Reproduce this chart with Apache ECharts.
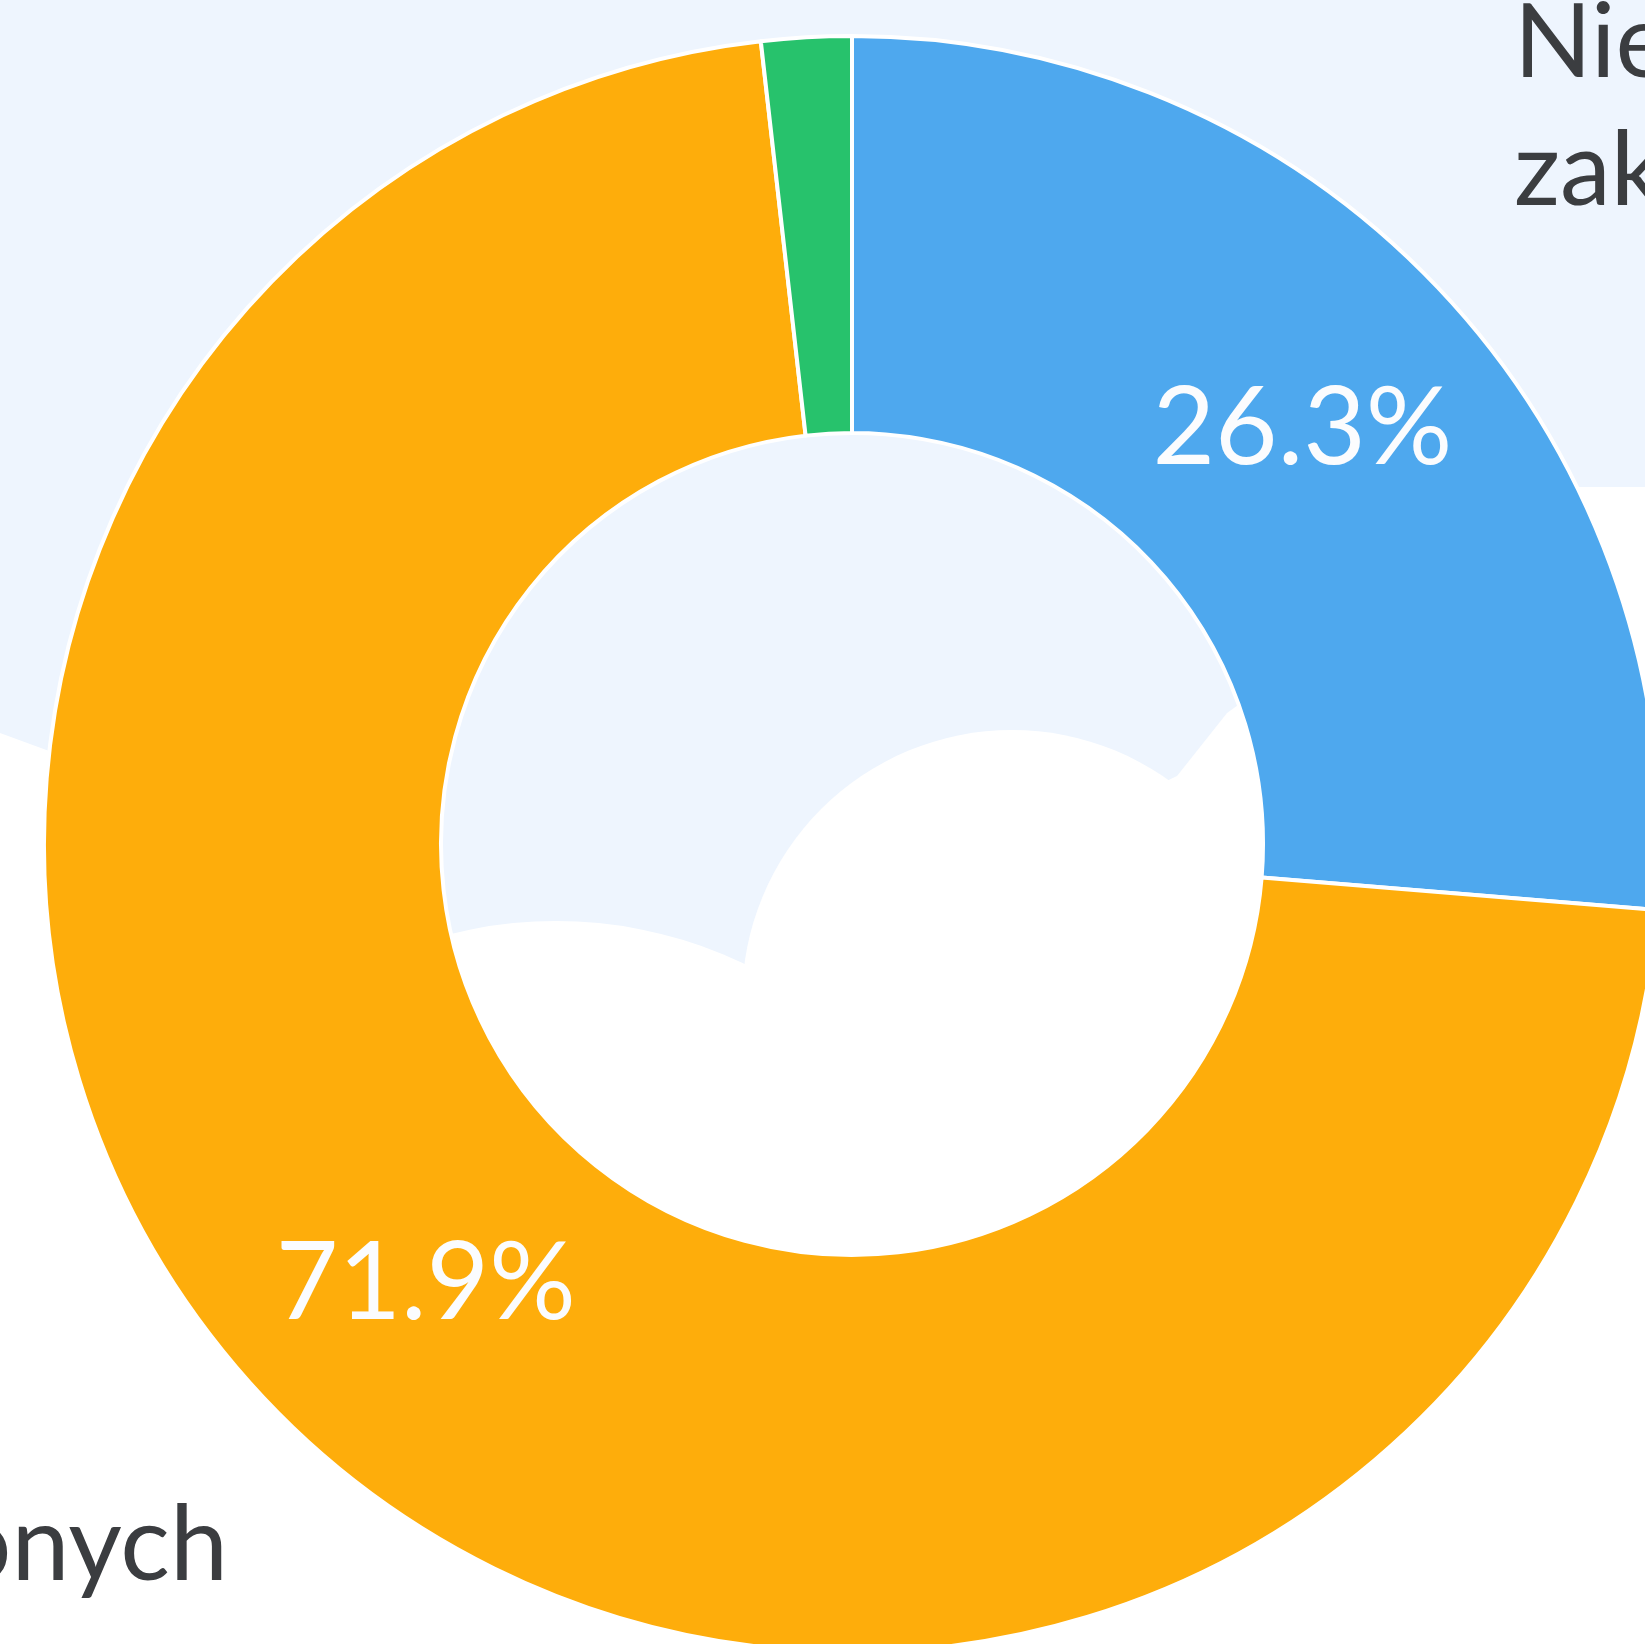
<!DOCTYPE html>
<html>
<head>
<meta charset="utf-8">
<script src="https://cdn.jsdelivr.net/npm/echarts@6/dist/echarts.min.js"></script>
<style>
  html, body { margin: 0; padding: 0; background: #fff; }
  #main { width: 1645px; height: 1644px; }
</style>
</head>
<body>
<div id="main"></div>
<script>
// dane
var categories = ["Nie zakończonych", "Zakończonych", "Anulowanych"];
var values = [26.3, 71.9, 1.8];
var colors = ["#4EA8EE", "#FEAD0B", "#27C26C"];

var myChart = echarts.init(document.getElementById("main"));

var bg = "#EEF5FE";
var font = "Lato";

// tlo - jasnoniebieskie z bialymi "chmurami"
var graphics = [
  { type: "rect", z: 0, shape: { x: 0, y: 0, width: 1645, height: 1644 }, style: { fill: bg } },
  { type: "circle", z: 0, shape: { cx: 556, cy: 1357, r: 436 }, style: { fill: "#fff" } },
  { type: "circle", z: 0, shape: { cx: 1012, cy: 1000, r: 270 }, style: { fill: "#fff" } },
  {
    type: "polygon", z: 0,
    shape: {
      points: [[0, 733], [60, 755], [420, 960], [500, 1100], [1177, 776], [1227, 713],
               [1540, 487], [1645, 487], [1645, 1644], [0, 1644]]
    },
    style: { fill: "#fff" }
  }
];

// etykiety nazw (wychodza poza kadr)
var blueName = categories[0].split(" ");
graphics.push(
  { type: "text", z: 20, x: 1514, y: 44, style: { text: blueName[0], font: "102px " + font, fill: "#3b3d40", align: "left", verticalAlign: "middle" } },
  { type: "text", z: 20, x: 1514, y: 172, style: { text: blueName[1], font: "102px " + font, fill: "#3b3d40", align: "left", verticalAlign: "middle" } },
  { type: "text", z: 20, x: 228, y: 1546, style: { text: categories[1], font: "104px " + font, fill: "#3b3d40", align: "right", verticalAlign: "middle" } }
);

myChart.setOption({
  animation: false,
  graphic: graphics,
  series: [
    {
      type: "pie",
      z: 10,
      center: [852, 844],
      radius: [411, 808],
      startAngle: 90,
      minShowLabelAngle: 10,
      itemStyle: { borderColor: "#fff", borderWidth: 4 },
      label: {
        show: true,
        position: "inside",
        color: "#fbfcfe",
        fontFamily: font,
        fontSize: 108,
        formatter: function (p) { return p.percent.toFixed(1) + "%"; }
      },
      labelLine: { show: false },
      emphasis: { disabled: true },
      data: categories.map(function (c, i) {
        return { name: c, value: values[i], itemStyle: { color: colors[i] } };
      })
    }
  ]
});
</script>
</body>
</html>
